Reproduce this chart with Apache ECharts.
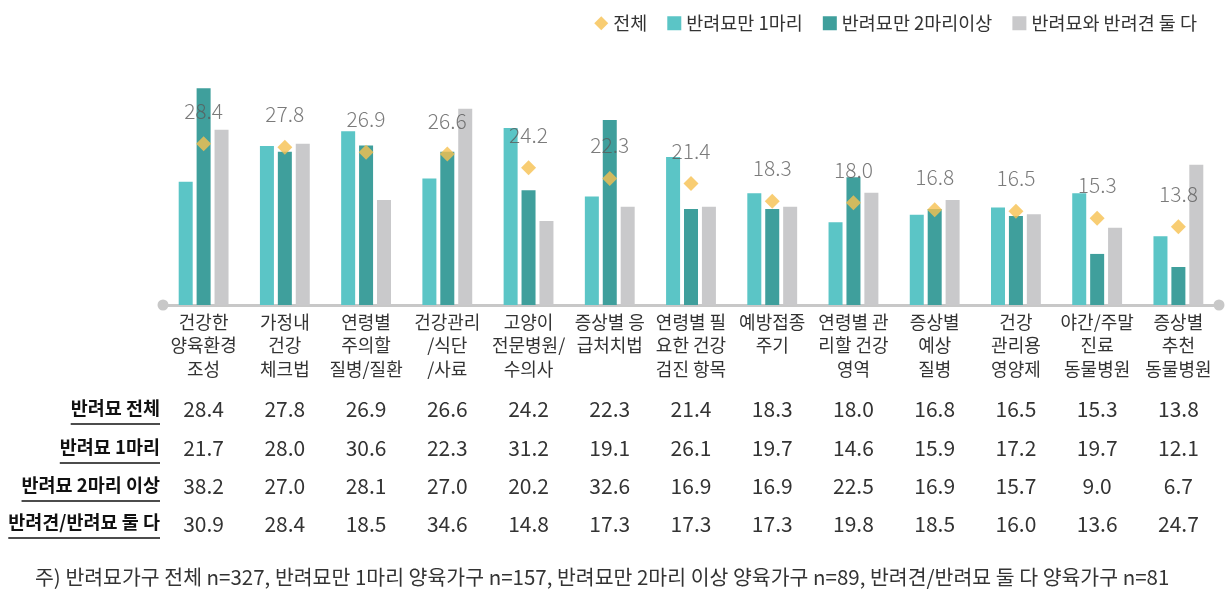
<!DOCTYPE html>
<html><head><meta charset="utf-8">
<script src="https://cdn.jsdelivr.net/npm/echarts@6/dist/echarts.min.js"></script>
<style>html,body{margin:0;padding:0;background:#fff}#c{width:1230px;height:600px}</style>
</head><body><div id="c"></div>
<script>
const categories = ['건강한\n양육환경\n조성','가정내\n건강\n체크법','연령별\n주의할\n질병/질환','건강관리\n/식단\n/사료','고양이\n전문병원/\n수의사','증상별 응\n급처치법','연령별 필\n요한 건강\n검진 항목','예방접종\n주기','연령별 관\n리할 건강\n영역','증상별\n예상\n질병','건강\n관리용\n영양제','야간/주말\n진료\n동물병원','증상별\n추천\n동물병원'];
const seriesNames = ['전체','반려묘만 1마리','반려묘만 2마리이상','반려묘와 반려견 둘 다'];
const total = [28.4,27.8,26.9,26.6,24.2,22.3,21.4,18.3,18.0,16.8,16.5,15.3,13.8];
const oneCat = [21.7,28.0,30.6,22.3,31.2,19.1,26.1,19.7,14.6,15.9,17.2,19.7,12.1];
const multiCat = [38.2,27.0,28.1,27.0,20.2,32.6,16.9,16.9,22.5,16.9,15.7,9.0,6.7];
const both = [30.9,28.4,18.5,34.6,14.8,17.3,17.3,17.3,19.8,18.5,16.0,13.6,24.7];
const tableRowLabels = ['반려묘 전체','반려묘 1마리','반려묘 2마리 이상','반려견/반려묘 둘 다'];
const tableRows = [total, oneCat, multiCat, both];
const footnote = '주) 반려묘가구 전체 n=327, 반려묘만 1마리 양육가구 n=157, 반려묘만 2마리 이상 양육가구 n=89, 반려견/반려묘 둘 다 양육가구 n=81';

const FONT = '"Noto Sans CJK KR", "Noto Sans", sans-serif';
const colors = ['#F6C150','#5BC5C6','#3F9F9C','#C9C9CB'];
const chart = echarts.init(document.getElementById('c'));

const rowOffsets = [94, 133, 171, 209];
const xAxes = [{
  type:'category', data: categories, gridIndex:0,
  axisLine:{show:true, lineStyle:{color:'#C8C8C8', width:3}, symbol:['circle','circle'], symbolSize:[11,11]},
  axisTick:{show:false},
  axisLabel:{interval:0, margin:5, fontFamily:FONT, fontSize:18, color:'#333', lineHeight:23.5}
}];
tableRows.forEach((row,i)=>{
  xAxes.push({
    type:'category', data: row.map(v=>v.toFixed(1)), gridIndex:0, position:'bottom', offset: rowOffsets[i],
    axisLine:{show:false}, axisTick:{show:false}, splitLine:{show:false},
    axisLabel:{interval:0, margin:0, fontFamily:FONT, fontSize:21, color:'#333'}
  });
});

const graphics = [];
const ctx = document.createElement('canvas').getContext('2d');
const rowFont = 'bold 18.5px ' + FONT;
ctx.font = rowFont;
const rowY = [411, 450, 488, 525];
tableRowLabels.forEach((t,i)=>{
  const w = ctx.measureText(t).width;
  graphics.push({type:'text', right: 1230-160, top: rowY[i]-12, style:{text:t, font:rowFont, fill:'#111', textAlign:'right'}});
  graphics.push({type:'line', shape:{x1:160-w, y1:rowY[i]+13, x2:160, y2:rowY[i]+13}, style:{stroke:'#111', lineWidth:1.5}});
});
graphics.push({type:'text', left:35, top:567, style:{text:footnote, font:'20.5px '+FONT, fill:'#333'}});

chart.setOption({
  animation:false,
  color: colors,
  legend:{
    right:28, top:9, itemWidth:14, itemHeight:14, itemGap:20,
    textStyle:{fontFamily:FONT, fontSize:18.5, color:'#333'},
    data:[{name:seriesNames[0], icon:'diamond'}, {name:seriesNames[1], icon:'rect'}, {name:seriesNames[2], icon:'rect'}, {name:seriesNames[3], icon:'rect'}]
  },
  grid:{left:163, right:11, top:78, bottom:295},
  xAxis: xAxes,
  yAxis:{type:'value', min:0, max:40, show:false, splitLine:{show:false}},
  series:[
    {name:seriesNames[1], type:'bar', data:oneCat, barWidth:14, barGap:'28%', itemStyle:{color:colors[1]}},
    {name:seriesNames[2], type:'bar', data:multiCat, barWidth:14, barGap:'28%', itemStyle:{color:colors[2]}},
    {name:seriesNames[3], type:'bar', data:both, barWidth:14, barGap:'28%', itemStyle:{color:colors[3]}},
    {name:seriesNames[0], type:'scatter', data:total, symbol:'diamond', symbolSize:[15,15], z:5,
      itemStyle:{color:colors[0]},
      label:{show:true, position:'top', distance:15, fontFamily:FONT, fontSize:21, fontWeight:300, color:'#5a5a5a', formatter:p=>p.value.toFixed(1)}}
  ],
  graphic: graphics
});
</script></body></html>
